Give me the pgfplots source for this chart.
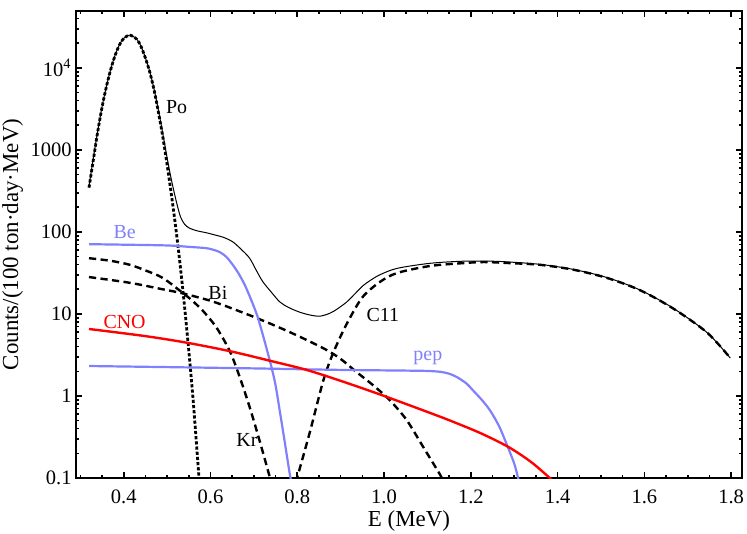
\documentclass[border=0pt]{standalone}
\usepackage{fontspec}
\setmainfont{Liberation Serif}
\usepackage{pgfplots}
\pgfplotsset{compat=1.18}
\definecolor{mblue}{rgb}{0.5,0.5,1}
\begin{document}
\begin{tikzpicture}
\begin{axis}[
  scale only axis, width=333bp, height=233.5bp,
  xmin=0.29, xmax=1.825, ymode=log, ymin=0.1, ymax=49500,
  axis line style={line width=1.1bp},
  tick align=inside,
  xtick={0.4,0.6,0.8,1.0,1.2,1.4,1.6,1.8},
  xticklabels={0.4,0.6,0.8,1.0,1.2,1.4,1.6,1.8},
  minor xtick={0.3,0.35,0.45,0.5,0.55,0.65,0.7,0.75,0.85,0.9,0.95,1.05,1.1,1.15,1.25,1.3,1.35,1.45,1.5,1.55,1.65,1.7,1.75},
  ytick={0.1,1,10,100,1000,10000},
  yticklabels={0.1,1,10,100,1000,10\textsuperscript{4}},
  minor ytick={0.2,0.3,0.4,0.5,0.6,0.7,0.8,0.9,2,3,4,5,6,7,8,9,20,30,40,50,60,70,80,90,200,300,400,500,600,700,800,900,2000,3000,4000,5000,6000,7000,8000,9000,20000,30000,40000},
  major tick length=2.8bp, minor tick length=1.6bp,
  every tick/.style={black, line width=0.8bp},
  tick label style={font=\fontsize{10.3}{12}\selectfont},
  xticklabel style={anchor=center, yshift=-9.5bp},
  yticklabel style={anchor=east, inner sep=0pt, xshift=-2bp},
  xlabel={E (MeV)}, ylabel={Counts/(100 ton·day·MeV)},
  label style={font=\fontsize{11.5}{13}\selectfont},
  xlabel style={at={(rel axis cs:0.5,-0.093)}, anchor=center},
  ylabel style={at={(rel axis cs:-0.095,0.5)}, anchor=center},
  every axis plot/.append style={smooth},
]
\coordinate (SW) at (rel axis cs:0,0);
\coordinate (NE) at (rel axis cs:1,1);
% total (thin)
\addplot[black, line width=0.5bp] coordinates {(0.32,360)(0.33,800)(0.34,1700)(0.35,3350)(0.36,5950)(0.37,9650)(0.38,14250)(0.39,19150)(0.40,23000)(0.414,25200)(0.43,22500)(0.44,18300)(0.45,13300)(0.46,9050)(0.47,5500)(0.48,3030)(0.49,1590)(0.50,800)(0.51,430)(0.52,250)(0.53,158)(0.54,125)(0.552,111)(0.57,103)(0.59,98)(0.61,92)(0.63,86)(0.651,76)(0.67,62)(0.69,48)(0.705,34.5)(0.72,25)(0.74,18.5)(0.76,14)(0.78,12)(0.806,10.5)(0.83,9.7)(0.852,9.4)(0.875,10.2)(0.891,11.4)(0.914,14)(0.93,17)(0.951,22)(0.97,26)(0.99,30)(1.03,36)(1.106,41.5)(1.182,44)(1.25,44)(1.29,43)(1.359,40.3)(1.436,35)(1.514,27.8)(1.59,19.6)(1.666,11.8)(1.745,5.9)(1.798,2.9)};
% Po
\addplot[black, line width=1.4bp, dash pattern=on 1.6bp off 1bp] coordinates {(0.32,347)(0.33,759)(0.34,1660)(0.35,3311)(0.36,5888)(0.37,9550)(0.38,14125)(0.39,19055)(0.40,22909)(0.414,25119)(0.43,22387)(0.44,18197)(0.45,13183)(0.46,8913)(0.47,5370)(0.48,2884)(0.49,1445)(0.50,661)(0.51,282)(0.52,112)(0.53,39.8)(0.54,12.6)(0.55,3.55)(0.56,0.89)(0.57,0.178)(0.575,0.079)};
% Kr
\addplot[black, line width=1.2bp, dash pattern=on 3.6bp off 2.2bp] coordinates {(0.32,47.9)(0.37,44.5)(0.414,39.8)(0.45,34)(0.49,27.5)(0.537,17.9)(0.552,15.5)(0.582,11.0)(0.614,6.8)(0.645,3.47)(0.668,1.66)(0.691,0.71)(0.714,0.275)(0.735,0.11)(0.742,0.08)};
% Bi
\addplot[black, line width=1.2bp, dash pattern=on 3.6bp off 2.2bp] coordinates {(0.32,28.2)(0.414,24.0)(0.49,20.0)(0.537,17.8)(0.6,14.5)(0.628,12.9)(0.707,8.9)(0.783,6.0)(0.859,3.85)(0.898,2.88)(0.937,1.95)(0.975,1.35)(1.013,0.89)(1.052,0.51)(1.09,0.24)(1.129,0.11)(1.136,0.092)};
% C11
\addplot[black, line width=1.2bp, dash pattern=on 3.6bp off 2.2bp] coordinates {(0.797,0.09)(0.80,0.102)(0.829,0.363)(0.859,1.48)(0.878,2.9)(0.898,5.1)(0.921,8.9)(0.951,16.2)(0.99,24.5)(1.03,31.6)(1.106,38.5)(1.182,41.7)(1.23,43.0)(1.29,41.7)(1.359,39.8)(1.436,34.7)(1.514,27.5)(1.59,19.5)(1.666,11.7)(1.745,5.9)(1.798,2.9)};
% Be
\addplot[mblue, line width=1.1bp] coordinates {(0.32,71)(0.40,70)(0.50,68.5)(0.552,65.8)(0.59,63.5)(0.605,61)(0.621,57)(0.636,50)(0.651,40)(0.665,31)(0.679,22.6)(0.693,15.2)(0.707,9.8)(0.716,6.8)(0.725,4.6)(0.733,3.2)(0.741,2.2)(0.75,1.35)(0.760,0.64)(0.77,0.3)(0.778,0.16)(0.783,0.11)(0.788,0.08)};
% pep
\addplot[mblue, line width=1.1bp] coordinates {(0.32,2.32)(0.5,2.25)(0.7,2.17)(0.9,2.08)(1.05,2.04)(1.1,2.02)(1.13,1.97)(1.15,1.87)(1.168,1.7)(1.19,1.42)(1.205,1.17)(1.225,0.9)(1.244,0.67)(1.265,0.43)(1.285,0.24)(1.30,0.15)(1.309,0.1)(1.313,0.085)};
% CNO
\addplot[red, line width=1.2bp] coordinates {(0.32,6.56)(0.45,5.37)(0.55,4.42)(0.65,3.47)(0.737,2.69)(0.82,2.09)(0.9,1.53)(0.99,1.047)(1.08,0.70)(1.145,0.519)(1.221,0.355)(1.286,0.24)(1.338,0.158)(1.382,0.1)(1.39,0.09)};
% labels
\begingroup
\fontsize{10.5}{12}\selectfont
\node at (axis cs:0.522,3300) {Po};
\node[text=mblue] at (axis cs:0.402,100) {Be};
\node at (axis cs:0.617,18) {Bi};
\node[text=red] at (axis cs:0.402,8) {CNO};
\node at (axis cs:0.684,0.29) {Kr};
\node at (axis cs:0.997,9.8) {C11};
\node[text=mblue] at (axis cs:1.101,2.9) {pep};
\endgroup
\end{axis}
\pgfresetboundingbox
\path[use as bounding box] ([shift={(-38bp,-28bp)}]SW) rectangle ([shift={(2.5bp,5.5bp)}]NE);
\end{tikzpicture}
\end{document}
